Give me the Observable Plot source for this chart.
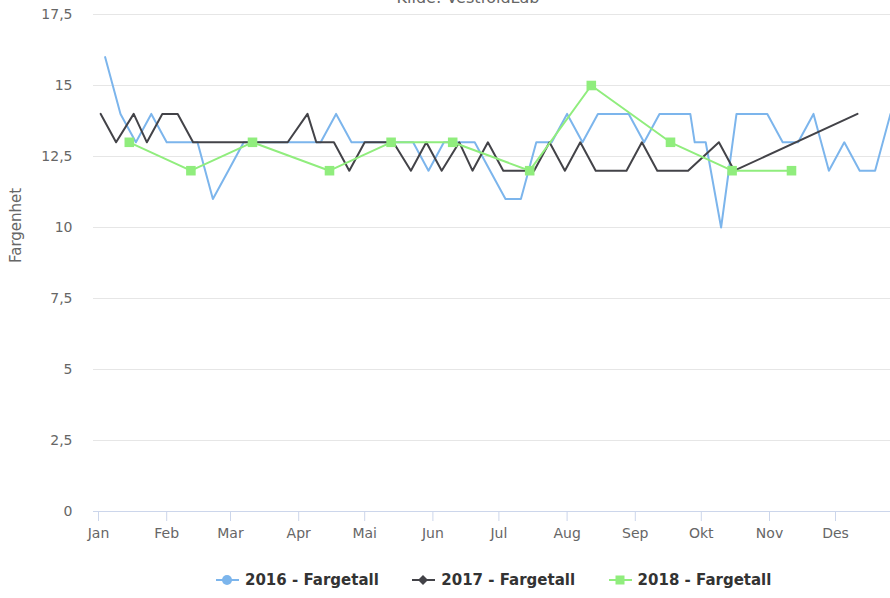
<!DOCTYPE html>
<html><head><meta charset="utf-8">
<script src="https://cdn.jsdelivr.net/npm/d3@7"></script>
<script src="https://cdn.jsdelivr.net/npm/@observablehq/plot@0.6"></script>
<style>
body{margin:0;background:#fff;font-family:"DejaVu Sans",sans-serif;}
#wrap{position:relative;width:890px;height:598px;overflow:hidden;background:#fff;}
#chart{position:absolute;top:0;left:0;}
#sub{position:absolute;top:-10px;left:468px;transform:translateX(-50%);font-size:16px;line-height:16px;color:#666;white-space:nowrap;}
#legend{position:absolute;left:216px;top:571px;display:flex;align-items:center;font-weight:bold;font-size:15px;color:#333;white-space:nowrap;}
.item{display:flex;align-items:center;margin-right:33.5px;}
.item svg{margin-right:6px;}
</style></head><body>
<div id="wrap"><div id="chart"></div><div id="sub">Kilde: VestfoldLab</div><div id="legend"></div></div>
<script>
// ---- data ----
const baseYear = "2016"; // all years are overlaid on one Jan–Dec axis
const monthLabels = ["Jan","Feb","Mar","Apr","Mai","Jun","Jul","Aug","Sep","Okt","Nov","Des"];
const yTicks = [0, 2.5, 5, 7.5, 10, 12.5, 15, 17.5];
const seriesNames = ["2016 - Fargetall", "2017 - Fargetall", "2018 - Fargetall"];

const dates2016 = ["01-04","01-11","01-18","01-25",
  "02-01","02-08","02-15","02-22","02-29",
  "03-07","03-14","03-21","03-28",
  "04-04","04-11","04-18","04-25",
  "05-02","05-09","05-16","05-23","05-30",
  "06-06","06-13","06-20","06-27",
  "07-04","07-11","07-18","07-25",
  "08-01","08-08","08-15","08-22","08-29",
  "09-05","09-12","09-19","09-26","09-28",
  "10-03","10-10","10-17","10-24","10-31",
  "11-07","11-14","11-21","11-28",
  "12-05","12-12","12-19","12-26"];
const values2016 = [16,14,13,14,
  13,13,13,11,12,
  13,13,13,13,
  13,13,14,13,
  13,13,13,13,12,
  13,13,13,12,
  11,11,13,13,
  14,13,14,14,14,
  13,14,14,14,13,
  13,10,14,14,14,
  13,13,14,12,
  13,12,12,14];

const dates2017 = ["01-02","01-09","01-17","01-23","01-30",
  "02-06","02-13","02-20","02-27",
  "03-05","03-12","03-19","03-27",
  "04-05","04-09","04-17","04-24",
  "05-01","05-08","05-14","05-22","05-29",
  "06-05","06-13","06-19","06-26",
  "07-03","07-10","07-17","07-24","07-31",
  "08-07","08-14","08-21","08-28",
  "09-04","09-11","09-18","09-25",
  "10-09","10-16","12-11"];
const values2017 = [14,13,14,13,14,
  14,13,13,13,
  13,13,13,13,
  14,13,13,12,
  13,13,13,12,13,
  12,13,12,13,
  12,12,12,13,12,
  13,12,12,12,
  13,12,12,12,
  13,12,14];

const dates2018 = ["01-15","02-12","03-11","04-15","05-13","06-10","07-15","08-12","09-17","10-15","11-11"];
const values2018 = [13,12,13,12,13,13,12,15,13,12,12];

// ---- build ----
const colors = ["#7cb5ec", "#434348", "#90ed7d"];
const toDate = md => new Date(`${baseYear}-${md}T00:00:00Z`);
const rows = (ds, vs) => ds.map((d, i) => ({date: toDate(d), value: vs[i]}));
const s2016 = rows(dates2016, values2016);
const s2017 = rows(dates2017, values2017);
const s2018 = rows(dates2018, values2018);
const monthTicks = d3.utcMonths(new Date(Date.UTC(2016,0,1)), new Date(Date.UTC(2016,11,2)));

const plot = Plot.plot({
  width: 890, height: 550,
  marginLeft: 93, marginRight: 0, marginTop: 14, marginBottom: 39,
  style: {fontFamily: '"DejaVu Sans", sans-serif', background: "transparent"},
  x: {type: "utc", domain: [new Date(Date.UTC(2015,11,29,17,30)), new Date(Date.UTC(2016,11,26,0))], axis: null},
  y: {domain: [0, 17.5], axis: null},
  marks: [
    Plot.ruleY(yTicks.filter(v => v > 0), {stroke: "#e6e6e6", strokeWidth: 1}),
    Plot.ruleY([0], {stroke: "#ccd6eb", strokeWidth: 1}),
    Plot.axisX(monthTicks, {tickSize: 10, tickPadding: 7, stroke: "#ccd6eb", fill: "#666", fontSize: 14,
      tickFormat: d => monthLabels[d.getUTCMonth()], label: null}),
    Plot.axisY(yTicks, {tickSize: 0, tickPadding: 21, fill: "#666", fontSize: 14,
      tickFormat: v => String(v).replace(".", ","), label: null}),
    Plot.text(["Fargenhet"], {frameAnchor: "left", dx: -77, rotate: -90, fill: "#666", fontSize: 15}),
    Plot.line(s2016, {x: "date", y: "value", stroke: colors[0], strokeWidth: 2, clip: true}),
    Plot.line(s2017, {x: "date", y: "value", stroke: colors[1], strokeWidth: 2, clip: true}),
    Plot.line(s2018, {x: "date", y: "value", stroke: colors[2], strokeWidth: 2, clip: true}),
    Plot.dot(s2018, {x: "date", y: "value", symbol: "square", r: 5.4, fill: colors[2], stroke: "none"})
  ]
});
document.getElementById("chart").appendChild(plot);

// ---- legend ----
const symbols = [
  '<circle cx="11" cy="7" r="5" fill="' + colors[0] + '"/>',
  '<path d="M11 2 L16 7 L11 12 L6 7 Z" fill="' + colors[1] + '"/>',
  '<rect x="6.5" y="2.5" width="9" height="9" fill="' + colors[2] + '"/>'
];
const legend = document.getElementById("legend");
seriesNames.forEach((name, i) => {
  const item = document.createElement("div");
  item.className = "item";
  item.innerHTML = '<svg width="23" height="14"><line x1="0" x2="23" y1="7" y2="7" stroke="' + colors[i] +
    '" stroke-width="2"/>' + symbols[i] + '</svg><span>' + name + '</span>';
  legend.appendChild(item);
});
</script>
</body></html>
